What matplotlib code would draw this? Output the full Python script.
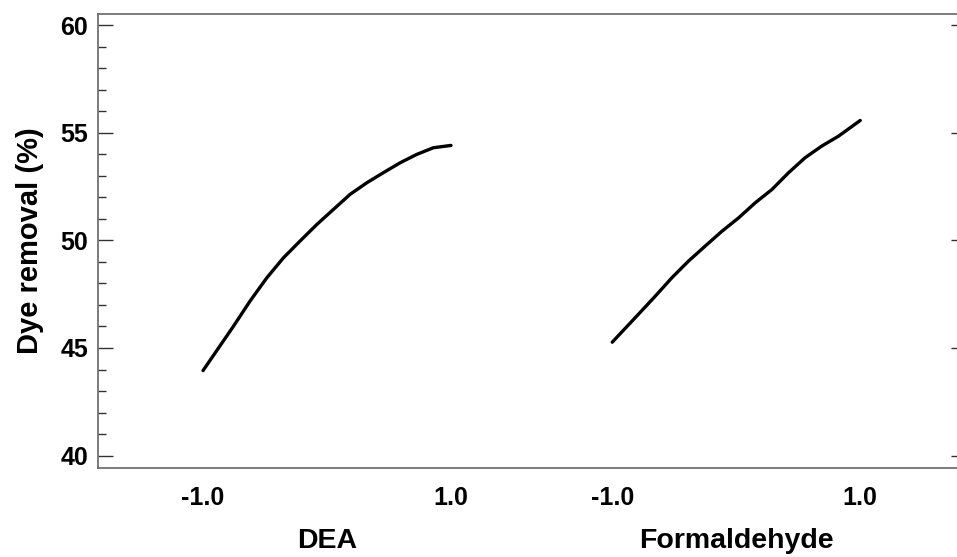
import matplotlib
matplotlib.use("Agg")
import matplotlib.pyplot as plt
from matplotlib import rcParams
from matplotlib.ticker import MultipleLocator
import matplotlib.transforms as mtransforms

rcParams['font.family'] = 'sans-serif'
rcParams['font.sans-serif'] = ['Liberation Sans', 'Arial', 'DejaVu Sans']
rcParams['font.weight'] = 'bold'

# factor levels (coded) and predicted dye removal
factors = ["DEA", "Formaldehyde"]
dea_level = [-1.0, -0.756, -0.621, -0.486, -0.352, -0.218, -0.083, 0.051,
             0.185, 0.32, 0.454, 0.589, 0.723, 0.857, 1.0]
dea_removal = [43.95, 46.0, 47.18, 48.26, 49.19, 49.97, 50.74, 51.44,
               52.14, 52.68, 53.15, 53.61, 54.0, 54.31, 54.42]
form_level = [-1.0, -0.79, -0.653, -0.52, -0.385, -0.25, -0.115, 0.019,
              0.153, 0.288, 0.422, 0.556, 0.69, 0.825, 1.0]
form_removal = [45.27, 46.56, 47.41, 48.26, 49.04, 49.74, 50.43, 51.05,
                51.75, 52.37, 53.15, 53.85, 54.39, 54.85, 55.58]
level_ticks = [-1.0, 1.0]
level_labels = ["-1.0", "1.0"]

# offset of each factor panel along the shared x axis
offsets = [0.0, 3.3]

fig = plt.figure(figsize=(9.57, 5.57), dpi=100)
ax = fig.add_axes([98 / 957, 89 / 557, 868 / 957, 454 / 557])

for off, xs, ys in zip(offsets, [dea_level, form_level], [dea_removal, form_removal]):
    ax.plot([x + off for x in xs], ys, color='black', linewidth=2.4,
            solid_capstyle='round', solid_joinstyle='round')

ax.set_xlim(-1.847, 5.153)
ax.set_ylim(39.42, 60.53)

xt, xl = [], []
for off in offsets:
    xt += [t + off for t in level_ticks]
    xl += level_labels
ax.set_xticks(xt)
ax.set_xticklabels(xl)
ax.tick_params(axis='x', length=0, pad=13, labelsize=18)

ax.yaxis.set_major_locator(MultipleLocator(5))
ax.yaxis.set_minor_locator(MultipleLocator(1))
ax.tick_params(axis='y', which='both', direction='in', left=True, right=True,
               labelsize=18, color='#333333', width=1, pad=7)
ax.tick_params(axis='y', which='major', length=11)
ax.tick_params(axis='y', which='minor', length=5.8)

for side in ['left', 'top', 'bottom']:
    ax.spines[side].set_color('#666666')
    ax.spines[side].set_linewidth(1.2)
ax.spines['right'].set_visible(False)

ax.set_ylabel("Dye removal (%)", fontsize=21, fontweight='bold', labelpad=12)

trans = mtransforms.blended_transform_factory(ax.transData, fig.transFigure)
for off, name in zip(offsets, factors):
    ax.text(off, 1 - 541 / 557, name, transform=trans, ha='center', va='center',
            fontsize=20.5, fontweight='bold')

plt.savefig("out.png", dpi=100)
plt.close()
